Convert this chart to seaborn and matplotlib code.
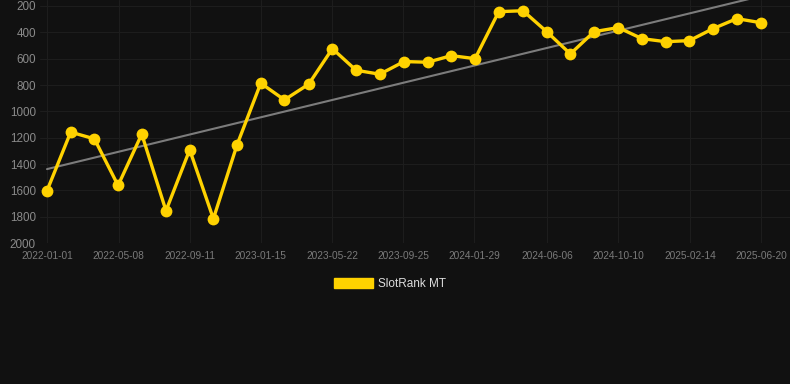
import numpy as np
import pandas as pd
import matplotlib
matplotlib.use("Agg")
import matplotlib.pyplot as plt
import matplotlib.dates as mdates
from matplotlib.patches import Patch
import seaborn as sns

dates = ["2022-01-01", "2022-02-12", "2022-03-26", "2022-05-07", "2022-06-18",
         "2022-07-31", "2022-09-11", "2022-10-23", "2022-12-04", "2023-01-15",
         "2023-02-26", "2023-04-10", "2023-05-22", "2023-07-03", "2023-08-14",
         "2023-09-26", "2023-11-07", "2023-12-19", "2024-01-30", "2024-03-12",
         "2024-04-24", "2024-06-05", "2024-07-17", "2024-08-28", "2024-10-10",
         "2024-11-21", "2025-01-02", "2025-02-13", "2025-03-27", "2025-05-08",
         "2025-06-20"]
ranks = [1603, 1158, 1209, 1563, 1173, 1755, 1292, 1816, 1254, 786,
         913, 794, 524, 688, 718, 622, 627, 577, 600, 243,
         236, 395, 564, 395, 364, 448, 471, 463, 372, 296,
         327]
tick_labels = ["2022-01-01", "2022-05-08", "2022-09-11", "2023-01-15", "2023-05-22",
               "2023-09-25", "2024-01-29", "2024-06-06", "2024-10-10", "2025-02-14",
               "2025-06-20"]
y_ticks = [200, 400, 600, 800, 1000, 1200, 1400, 1600, 1800, 2000]
series_name = "SlotRank MT"

sns.set_theme(style="dark")
plt.rcParams["font.family"] = ["Liberation Sans", "DejaVu Sans"]

bg = "#111111"
gold = "#FFD200"

df = pd.DataFrame({"date": pd.to_datetime(dates), "rank": ranks})

W, H = 790, 384
top_px, bot_px = 0, 243
fig = plt.figure(figsize=(W / 100, H / 100), dpi=100)
fig.patch.set_facecolor(bg)
ax = fig.add_axes([40 / W, (H - bot_px) / H, (790 - 40) / W, (bot_px - top_px) / H])
ax.set_facecolor(bg)

# trend line (least squares fit)
xnum = mdates.date2num(df["date"])
k, b = np.polyfit(xnum, df["rank"], 1)
trend = pd.DataFrame({"date": df["date"].iloc[[0, -1]],
                      "trend": k * xnum[[0, -1]] + b})
sns.lineplot(data=trend, x="date", y="trend", ax=ax, color="#7c7c7c",
             linewidth=1.5, legend=False, zorder=2)

sns.lineplot(data=df, x="date", y="rank", ax=ax, color=gold, linewidth=2.4,
             marker="o", markersize=8.5, markeredgewidth=0, legend=False, zorder=3)

d0 = mdates.date2num(pd.Timestamp(dates[0]))
d1 = mdates.date2num(pd.Timestamp(dates[-1]))
ppd = (761 - 47) / (d1 - d0)
ax.set_xlim(d0 - (47 - 40) / ppd, d1 + (790 - 761) / ppd)
vpp = 1800 / (243 - 6)
ax.set_ylim(2000, 200 - (6 - top_px) * vpp)

ax.set_xticks(mdates.date2num(pd.to_datetime(tick_labels)))
ax.set_xticklabels(tick_labels)
ax.set_yticks(y_ticks)
ax.set_yticklabels([str(v) for v in y_ticks])
ax.tick_params(axis="x", colors="#7a7a7a", labelsize=7.3, length=0, pad=6)
ax.tick_params(axis="y", colors="#8a8a8a", labelsize=8.4, length=0, pad=3)
ax.grid(True, color="#1d1d1d", linewidth=0.8)
ax.set_axisbelow(True)
for s in ax.spines.values():
    s.set_visible(False)
ax.set_xlabel("")
ax.set_ylabel("")

handles = [Patch(facecolor=gold, edgecolor=gold, label=series_name)]
fig.legend(handles=handles, loc="center", bbox_to_anchor=(390 / W, 1 - 284 / H),
           frameon=False, fontsize=8.5, labelcolor="#dddddd",
           handlelength=3.3, handleheight=0.9, handletextpad=0.5)

fig.savefig("out.png", dpi=100, facecolor=bg)
